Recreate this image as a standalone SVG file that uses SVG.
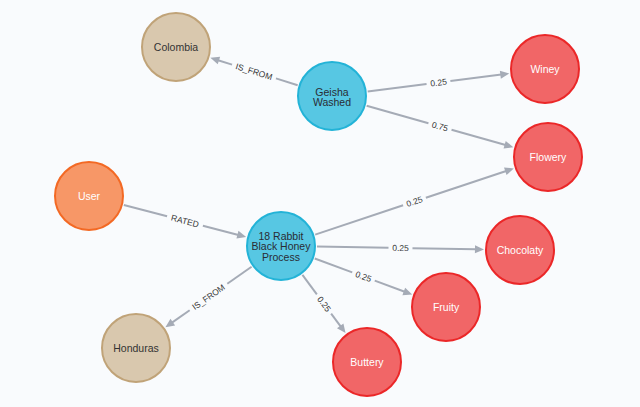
<svg xmlns="http://www.w3.org/2000/svg" width="640" height="407" viewBox="0 0 640 407">
<style>
.bg{fill:#F9FBFD}
.shaft{stroke:#A5ABB6;stroke-width:2;fill:none}
.head{fill:#A5ABB6}
.elabel{font-family:"Liberation Sans",Arial,sans-serif;font-size:8.5px;fill:#333333;text-anchor:middle}
.nlabel{font-family:"Liberation Sans",Arial,sans-serif;font-size:10.5px;text-anchor:middle}
.country circle{fill:#D9C8AE;stroke:#C0A378;stroke-width:2}
.country text{fill:#333333}
.coffee circle{fill:#57C7E3;stroke:#23B3D7;stroke-width:2}
.coffee text{fill:#2A2C34}
.flavor circle{fill:#F16667;stroke:#EB2728;stroke-width:2}
.flavor text{fill:#FFFFFF}
.user circle{fill:#F79767;stroke:#F36924;stroke-width:2}
.user text{fill:#FFFFFF}
</style>
<rect class="bg" x="0" y="0" width="640" height="407"/>
<g id="connectors">
  <g transform="translate(332,96) rotate(-162.56)">
    <line class="shaft" x1="36" y1="0" x2="58.75" y2="0"/>
    <line class="shaft" x1="104.75" y1="0" x2="119.5" y2="0"/>
    <polygon class="head" points="127.5,0 118.5,-4 118.5,4"/>
    <text class="elabel" transform="translate(81.75,0) rotate(180)" y="3">IS_FROM</text>
  </g>
  <g transform="translate(332,96) rotate(-7.22)">
    <line class="shaft" x1="36" y1="0" x2="95.35" y2="0"/>
    <line class="shaft" x1="119.35" y1="0" x2="170.7" y2="0"/>
    <polygon class="head" points="178.7,0 169.7,-4 169.7,4"/>
    <text class="elabel" x="107.35" y="3">0.25</text>
  </g>
  <g transform="translate(332,96) rotate(15.77)">
    <line class="shaft" x1="36" y1="0" x2="100.2" y2="0"/>
    <line class="shaft" x1="124.2" y1="0" x2="180.4" y2="0"/>
    <polygon class="head" points="188.4,0 179.4,-4 179.4,4"/>
    <text class="elabel" x="112.2" y="3">0.75</text>
  </g>
  <g transform="translate(89,196) rotate(14.6)">
    <line class="shaft" x1="36" y1="0" x2="80.7" y2="0"/>
    <line class="shaft" x1="117.7" y1="0" x2="154.4" y2="0"/>
    <polygon class="head" points="162.4,0 153.4,-4 153.4,4"/>
    <text class="elabel" x="99.2" y="3">RATED</text>
  </g>
  <g transform="translate(281,246) rotate(-18.43)">
    <line class="shaft" x1="36" y1="0" x2="128.7" y2="0"/>
    <line class="shaft" x1="152.7" y1="0" x2="237.4" y2="0"/>
    <polygon class="head" points="245.4,0 236.4,-4 236.4,4"/>
    <text class="elabel" x="140.7" y="3">0.25</text>
  </g>
  <g transform="translate(281,246) rotate(0.96)">
    <line class="shaft" x1="36" y1="0" x2="107.5" y2="0"/>
    <line class="shaft" x1="131.5" y1="0" x2="195" y2="0"/>
    <polygon class="head" points="203,0 194,-4 194,4"/>
    <text class="elabel" x="119.5" y="3">0.25</text>
  </g>
  <g transform="translate(281,246) rotate(20.29)">
    <line class="shaft" x1="36" y1="0" x2="75.95" y2="0"/>
    <line class="shaft" x1="99.95" y1="0" x2="131.9" y2="0"/>
    <polygon class="head" points="139.9,0 130.9,-4 130.9,4"/>
    <text class="elabel" x="87.95" y="3">0.25</text>
  </g>
  <g transform="translate(281,246) rotate(53.45)">
    <line class="shaft" x1="36" y1="0" x2="60.2" y2="0"/>
    <line class="shaft" x1="84.2" y1="0" x2="100.4" y2="0"/>
    <polygon class="head" points="108.4,0 99.4,-4 99.4,4"/>
    <text class="elabel" x="72.2" y="3">0.25</text>
  </g>
  <g transform="translate(281,246) rotate(144.88)">
    <line class="shaft" x1="36" y1="0" x2="65.65" y2="0"/>
    <line class="shaft" x1="111.65" y1="0" x2="133.3" y2="0"/>
    <polygon class="head" points="141.3,0 132.3,-4 132.3,4"/>
    <text class="elabel" transform="translate(88.65,0) rotate(180)" y="3">IS_FROM</text>
  </g>
</g>
<g id="node-colombia" class="country"><circle cx="176" cy="47" r="34"/><text class="nlabel" x="176" y="50.7">Colombia</text></g>
<g id="node-honduras" class="country"><circle cx="136" cy="348" r="34"/><text class="nlabel" x="136" y="351.7">Honduras</text></g>
<g id="node-geisha" class="coffee"><circle cx="332" cy="96" r="34"/><text class="nlabel" x="332" y="95.8">Geisha</text><text class="nlabel" x="332" y="106.3">Washed</text></g>
<g id="node-rabbit" class="coffee"><circle cx="281" cy="246" r="34"/><text class="nlabel" x="281" y="239.5">18 Rabbit</text><text class="nlabel" x="281" y="250">Black Honey</text><text class="nlabel" x="281" y="260.5">Process</text></g>
<g id="node-user" class="user"><circle cx="89" cy="196" r="34"/><text class="nlabel" x="89" y="199.7">User</text></g>
<g id="node-winey" class="flavor"><circle cx="545" cy="69" r="34"/><text class="nlabel" x="545" y="72.7">Winey</text></g>
<g id="node-flowery" class="flavor"><circle cx="548" cy="157" r="34"/><text class="nlabel" x="548" y="160.7">Flowery</text></g>
<g id="node-chocolaty" class="flavor"><circle cx="520" cy="250" r="34"/><text class="nlabel" x="520" y="253.7">Chocolaty</text></g>
<g id="node-fruity" class="flavor"><circle cx="446" cy="307" r="34"/><text class="nlabel" x="446" y="310.7">Fruity</text></g>
<g id="node-buttery" class="flavor"><circle cx="367" cy="362" r="34"/><text class="nlabel" x="367" y="365.7">Buttery</text></g>
</svg>
